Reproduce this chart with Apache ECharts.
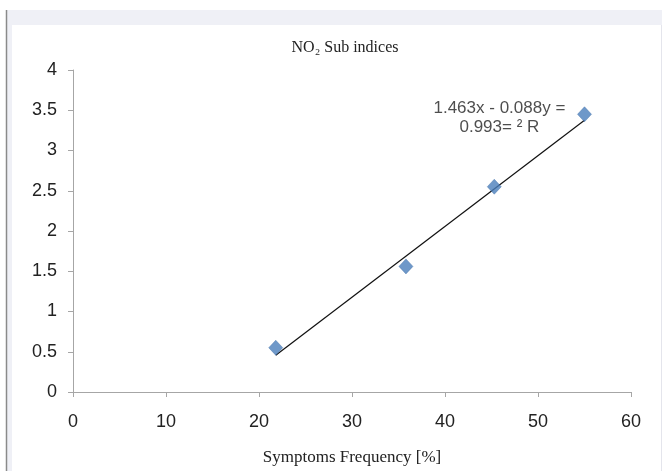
<!DOCTYPE html>
<html>
<head>
<meta charset="utf-8">
<script src="https://cdn.jsdelivr.net/npm/echarts@6/dist/echarts.min.js"></script>
<style>
  html, body { margin: 0; padding: 0; background: #fff; }
  #chart { width: 662px; height: 471px; }
</style>
</head>
<body>
<div id="chart"></div>
<script>
// symptoms frequency [%] vs NO2 sub index
var freq = [21.8, 35.8, 45.3, 55];
var subIndex = [0.55, 1.56, 2.55, 3.45];
var xTicks = [0, 10, 20, 30, 40, 50, 60];
var yTicks = [0, 0.5, 1, 1.5, 2, 2.5, 3, 3.5, 4];
// trendline as printed on the chart
var slope = 0.088;
var intercept = -1.463;
var eqLines = ['1.463x - 0.088y =', '0.993= \u00b2 R'];
var eqPos = [[45.85, 3.53], [45.85, 3.29]];

var trend = [freq[0], freq[freq.length - 1]].map(function (x) {
    return [x, slope * x + intercept];
});

var chart = echarts.init(document.getElementById('chart'));
chart.setOption({
    animation: false,
    backgroundColor: '#fff',
    graphic: [
        { type: 'rect', silent: true, z: -10, shape: { x: 7, y: 10, width: 655, height: 15 }, style: { fill: '#eff0f6' } },
        { type: 'rect', silent: true, z: -10, shape: { x: 7, y: 25, width: 5, height: 446 }, style: { fill: '#eff0f6' } },
        { type: 'line', silent: true, z: -9, shape: { x1: 6.5, y1: 10, x2: 6.5, y2: 471 }, style: { stroke: '#8a8a8a', lineWidth: 1.5 } },
        { type: 'line', silent: true, z: -9, shape: { x1: 661.5, y1: 25, x2: 661.5, y2: 471 }, style: { stroke: '#e4e5ec', lineWidth: 1 } }
    ],
    title: {
        text: 'NO\u2082 Sub indices',
        left: 340,
        top: 35,
        textAlign: 'center',
        textStyle: { fontFamily: 'Liberation Serif', fontSize: 16, fontWeight: 'normal', color: '#222' }
    },
    grid: { left: 73, right: 31, top: 70, bottom: 77, containLabel: false },
    xAxis: {
        type: 'value',
        min: 0, max: 60, interval: 10,
        name: 'Symptoms Frequency [%]',
        nameLocation: 'middle',
        nameGap: 57,
        nameTextStyle: { fontFamily: 'Liberation Serif', fontSize: 17, color: '#222' },
        axisLine: { lineStyle: { color: '#a6a6a6' } },
        axisTick: { show: true, length: 5, lineStyle: { color: '#a6a6a6' } },
        axisLabel: { fontFamily: 'Liberation Sans', fontSize: 18, color: '#222', margin: 21 },
        splitLine: { show: false }
    },
    yAxis: {
        type: 'value',
        min: 0, max: 4, interval: 0.5,
        axisLine: { show: true, lineStyle: { color: '#a6a6a6' } },
        axisTick: { show: true, length: 5, lineStyle: { color: '#a6a6a6' } },
        axisLabel: { fontFamily: 'Liberation Sans', fontSize: 18, color: '#222', margin: 16 },
        splitLine: { show: false }
    },
    series: [
        {
            type: 'line',
            data: trend,
            symbol: 'none',
            lineStyle: { color: '#111', width: 1.2 },
            z: 2,
            silent: true
        },
        {
            type: 'scatter',
            data: freq.map(function (x, i) { return [x, subIndex[i]]; }),
            symbol: 'diamond',
            symbolSize: [14, 15],
            itemStyle: { color: '#4a7ebb', borderColor: '#3c6ba5', borderWidth: 0.5 },
            z: 3
        },
        {
            type: 'scatter',
            data: eqPos,
            symbolSize: 0,
            silent: true,
            label: {
                show: true,
                position: 'inside',
                formatter: function (p) { return eqLines[p.dataIndex]; },
                fontFamily: 'Liberation Sans',
                fontSize: 17,
                color: '#222'
            }
        }
    ]
});
</script>
</body>
</html>
